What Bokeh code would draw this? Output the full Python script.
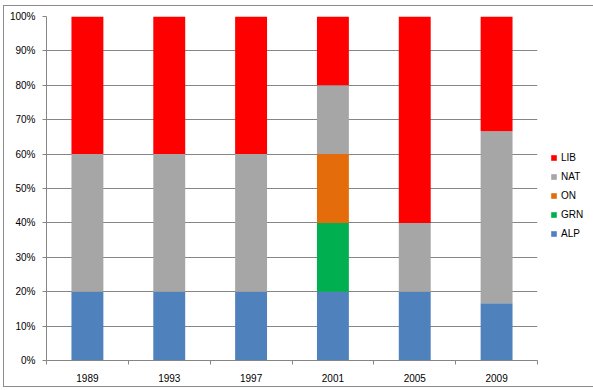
from bokeh.plotting import figure
from bokeh.models import (FixedTicker, NumeralTickFormatter, Legend, LegendItem,
                          ColumnDataSource, Range1d)
from bokeh.embed import file_html
from bokeh.resources import INLINE

# ---- data ----
years = ["1989", "1993", "1997", "2001", "2005", "2009"]
parties = ["ALP", "GRN", "ON", "NAT", "LIB"]
alp = [0.20, 0.20, 0.20, 0.20, 0.20, 0.1667]
grn = [0.00, 0.00, 0.00, 0.20, 0.00, 0.00]
on_ = [0.00, 0.00, 0.00, 0.20, 0.00, 0.00]
nat = [0.40, 0.40, 0.40, 0.20, 0.20, 0.50]
lib = [0.40, 0.40, 0.40, 0.20, 0.60, 0.3333]
party_colors = ["#4F81BD", "#00B050", "#E46C0A", "#A6A6A6", "#FF0000"]
y_ticks = [0.0, 0.1, 0.2, 0.3, 0.4, 0.5, 0.6, 0.7, 0.8, 0.9, 1.0]

FONT = "Liberation Sans"
GRID = "#868686"

x_centers = [i + 0.5 for i in range(len(years))]
x_bounds = list(range(len(years) + 1))

source = ColumnDataSource(dict(x=x_centers, ALP=alp, GRN=grn, ON=on_, NAT=nat, LIB=lib))

p = figure(frame_width=491, frame_height=344,
           x_range=Range1d(0, len(years)), y_range=Range1d(0, 1),
           output_backend="svg", toolbar_location=None,
           min_border_left=42, min_border_top=10, min_border_right=52, min_border_bottom=26,
           background_fill_color="white", border_fill_color="white")
p.outline_line_color = None
p.styles = {"border": "1px solid #8c8c8c", "margin-left": "3px", "margin-top": "5px"}

renderers = p.vbar_stack(parties, x="x", width=0.39, color=party_colors,
                         line_color=None, source=source)

# x axis: labels at centres, tick marks at category boundaries
p.xaxis.ticker = FixedTicker(ticks=x_centers, minor_ticks=x_bounds)
p.xaxis.major_label_overrides = {c: y for c, y in zip(x_centers, years)}
p.xaxis.major_tick_line_color = None
p.xaxis.major_tick_out = 0
p.xaxis.major_tick_in = 0
p.xaxis.minor_tick_line_color = GRID
p.xaxis.minor_tick_out = 4
p.xaxis.minor_tick_in = 0
p.xaxis.major_label_standoff = 9
p.xaxis.axis_line_color = GRID
p.xgrid.grid_line_color = None

# y axis
p.yaxis.ticker = FixedTicker(ticks=y_ticks)
p.yaxis.formatter = NumeralTickFormatter(format="0%")
p.yaxis.major_tick_line_color = GRID
p.yaxis.major_tick_out = 4
p.yaxis.major_tick_in = 0
p.yaxis.minor_tick_line_color = None
p.yaxis.axis_line_color = GRID
p.yaxis.major_label_standoff = 7
p.ygrid.grid_line_color = GRID

for ax in (p.xaxis, p.yaxis):
    ax.major_label_text_font = FONT
    ax.major_label_text_font_size = "10px"
    ax.major_label_text_color = "black"

items = [LegendItem(label=name, renderers=[r])
         for name, r in zip(reversed(parties), reversed(renderers))]
legend = Legend(items=items, location=(13, 120), padding=0, margin=0,
                border_line_color=None, background_fill_alpha=0,
                glyph_width=7, glyph_height=7, label_height=13, spacing=6,
                label_standoff=4, label_text_font=FONT, label_text_font_size="10px",
                label_text_color="black")
p.add_layout(legend, "right")

open("out.html", "w").write(file_html(p, INLINE))
